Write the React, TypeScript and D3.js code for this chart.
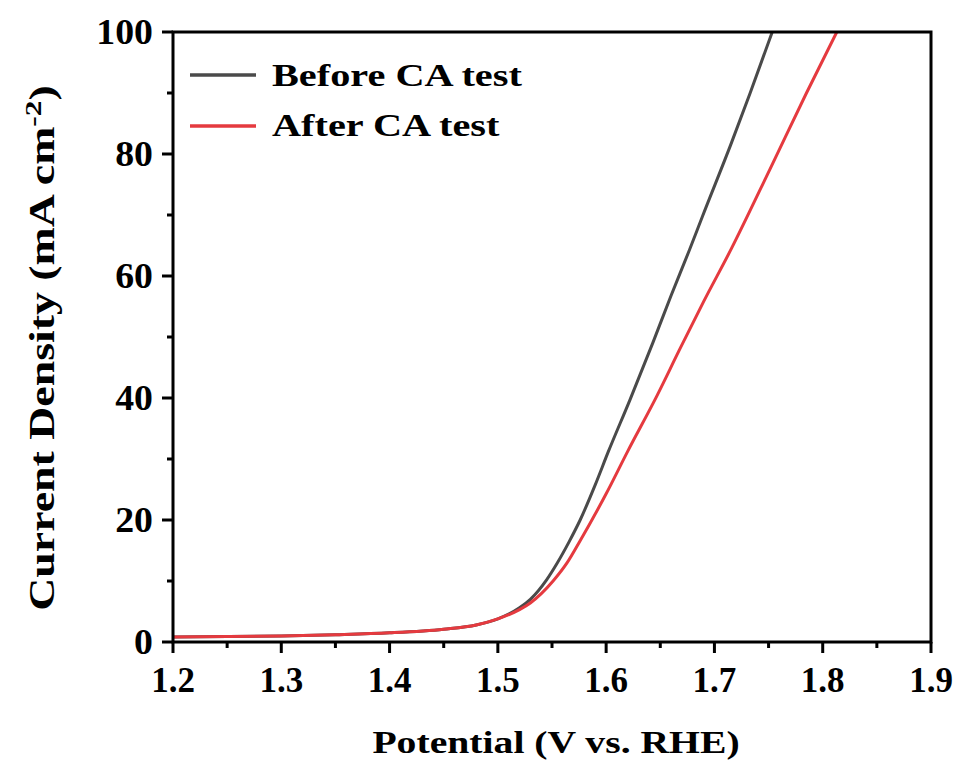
import React from "react";
import * as d3 from "d3";

// Polarization curves (LSV) before and after the chronoamperometry test
const beforePotential = [1.2, 1.25, 1.3, 1.35, 1.4, 1.45, 1.48, 1.5, 1.52, 1.53, 1.545, 1.555, 1.566, 1.576, 1.59, 1.602, 1.622, 1.643, 1.66, 1.677, 1.689, 1.715, 1.733, 1.754];
const beforeCurrent = [0.8, 0.9, 1.0, 1.2, 1.5, 2.1, 2.8, 3.8, 5.6, 7.0, 10.2, 13.0, 16.5, 20.0, 25.8, 31.2, 39.7, 49.0, 56.8, 64.3, 69.8, 81.5, 90.0, 100.3];

const afterPotential = [1.2, 1.25, 1.3, 1.35, 1.4, 1.45, 1.48, 1.5, 1.52, 1.53, 1.551, 1.564, 1.576, 1.6, 1.62, 1.647, 1.668, 1.69, 1.716, 1.751, 1.785, 1.813];
const afterCurrent = [0.8, 0.9, 1.0, 1.2, 1.5, 2.1, 2.8, 3.8, 5.3, 6.4, 10.0, 13.0, 16.6, 24.3, 31.3, 40.4, 48.0, 55.8, 64.6, 77.4, 90.0, 100.0];

const xMajorTicks = [1.2, 1.3, 1.4, 1.5, 1.6, 1.7, 1.8, 1.9];
const xMinorTicks = [1.25, 1.35, 1.45, 1.55, 1.65, 1.75, 1.85];
const yMajorTicks = [0, 20, 40, 60, 80, 100];
const yMinorTicks = [10, 30, 50, 70, 90];

const seriesNames = ["Before CA test", "After CA test"];
const seriesColors = ["#4a4a4a", "#e53a3f"];

const W = 960;
const H = 769;
const left = 173;
const right = 931;
const top = 32;
const bottom = 642;

const FONT = "'Liberation Serif', 'Times New Roman', serif";

export default function App() {
  const x = d3.scaleLinear().domain([1.2, 1.9]).range([left, right]);
  const y = d3.scaleLinear().domain([0, 100]).range([bottom, top]);

  const line = d3
    .line<[number, number]>()
    .x((d) => x(d[0]))
    .y((d) => y(d[1]))
    .curve(d3.curveMonotoneX);

  const series = [
    beforePotential.map((v, i) => [v, beforeCurrent[i]] as [number, number]),
    afterPotential.map((v, i) => [v, afterCurrent[i]] as [number, number]),
  ];

  return (
    <svg
      width={W}
      height={H}
      style={{ position: "absolute", left: 0, top: 0, background: "#fff" }}
      fontFamily={FONT}
      fontWeight="bold"
    >
      <defs>
        <clipPath id="plot-clip">
          <rect x={left} y={top} width={right - left} height={bottom - top} />
        </clipPath>
      </defs>

      {/* curves, drawn below the frame */}
      <g clipPath="url(#plot-clip)">
        {series.map((s, i) => (
          <path key={i} d={line(s) || ""} fill="none" stroke={seriesColors[i]} strokeWidth={3} strokeLinejoin="round" />
        ))}
      </g>

      {/* frame */}
      <rect x={left} y={top} width={right - left} height={bottom - top} fill="none" stroke="#000" strokeWidth={3} />

      {/* x ticks */}
      {xMajorTicks.map((t) => (
        <g key={"xM" + t}>
          <line x1={x(t)} x2={x(t)} y1={bottom} y2={bottom + 11} stroke="#000" strokeWidth={3} />
          <text x={x(t)} y={692} textAnchor="middle" fontSize={35} fill="#000">
            {t.toFixed(1)}
          </text>
        </g>
      ))}
      {xMinorTicks.map((t) => (
        <line key={"xm" + t} x1={x(t)} x2={x(t)} y1={bottom} y2={bottom + 6} stroke="#000" strokeWidth={3} />
      ))}

      {/* y ticks */}
      {yMajorTicks.map((t) => (
        <g key={"yM" + t}>
          <line x1={left} x2={left - 11} y1={y(t)} y2={y(t)} stroke="#000" strokeWidth={3} />
          <text
            transform={`translate(153, ${y(t)}) scale(1.08, 1)`}
            dy="0.34em"
            textAnchor="end"
            fontSize={35}
            fill="#000"
          >
            {t}
          </text>
        </g>
      ))}
      {yMinorTicks.map((t) => (
        <line key={"ym" + t} x1={left} x2={left - 6} y1={y(t)} y2={y(t)} stroke="#000" strokeWidth={3} />
      ))}

      {/* axis titles */}
      <text transform="translate(556, 753) scale(1.24, 1)" textAnchor="middle" fontSize={32} fill="#000">
        Potential (V vs. RHE)
      </text>
      <text
        transform="translate(54, 348) rotate(-90) scale(1.31, 1)"
        textAnchor="middle"
        fontSize={35}
        fill="#000"
      >
        Current Density (mA cm
        <tspan dy={-13} fontSize={24}>-2</tspan>
        <tspan dy={13}>)</tspan>
      </text>

      {/* legend */}
      {seriesNames.map((name, i) => (
        <g key={name}>
          <line x1={190} x2={256} y1={75 + i * 51} y2={75 + i * 51} stroke={seriesColors[i]} strokeWidth={3.5} />
          <text transform={`translate(272, ${86 + i * 50}) scale(1.3, 1)`} fontSize={31} fill="#000">
            {name}
          </text>
        </g>
      ))}
    </svg>
  );
}
